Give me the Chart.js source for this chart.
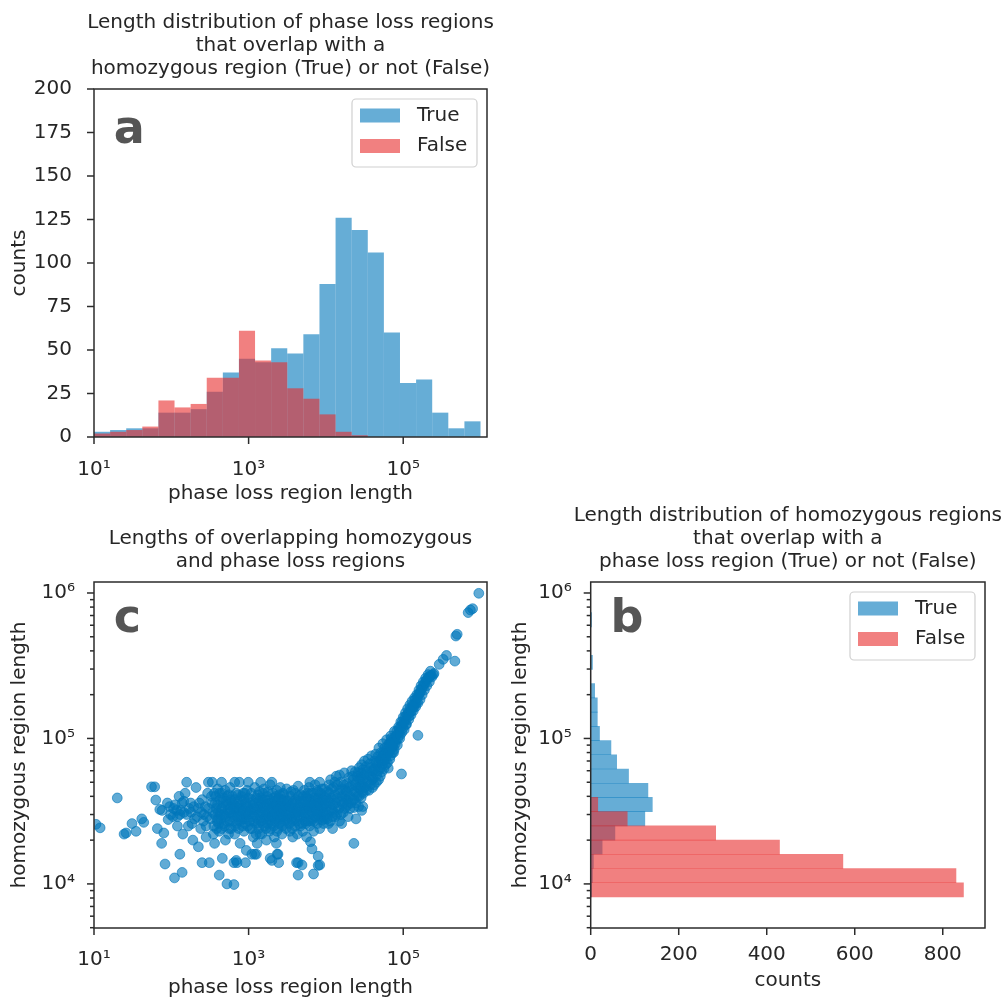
<!DOCTYPE html>
<html>
<head>
<meta charset="utf-8">
<title>Phase loss and homozygous region lengths</title>
<script src="https://cdn.jsdelivr.net/npm/chart.js@4.4.1/dist/chart.umd.min.js"></script>
<style>
  html, body { margin: 0; padding: 0; background: #fff; }
  #page { position: relative; width: 1008px; height: 999px; overflow: hidden; }
  canvas { position: absolute; }
  #chartA { left: 0; top: 0; }
  #chartC { left: 0; top: 510px; }
  #chartB { left: 500px; top: 490px; }
</style>
</head>
<body>
<div id="page">
  <canvas id="chartA" width="500" height="510"></canvas>
  <canvas id="chartC" width="500" height="489"></canvas>
  <canvas id="chartB" width="508" height="509"></canvas>
</div>
<script>
// ---- data -------------------------------------------------------------

// (a) phase loss region lengths, 24 log bins from 10 to 1e6
var phaseLossBinEdges = [10, 16.16, 26.1, 42.17, 68.13, 110.1, 177.8, 287.3, 464.2, 749.9, 1211.5, 1957, 3162, 5109, 8254,
                         13335, 21544, 34807, 56234, 90852, 146780, 237137, 383119, 618966, 1000000];
var phaseLossTrue  = [3, 4, 5, 5, 14, 14, 16, 26, 37, 45, 43, 51, 48, 59, 88, 126, 119, 106, 60, 31, 33, 14, 5, 9];
var phaseLossFalse = [2, 3, 4, 6, 21, 17, 19, 34, 34, 61, 44, 43, 28, 22, 13, 3, 1, 0, 0, 0, 0, 0, 0, 0];

// (b) homozygous region lengths, 20 log bins
var homozygousBinEdges = [8140, 10190, 12760, 15990, 20020, 25070, 31400, 39320, 49240, 61670, 77230,
                          96720, 121100, 151700, 190000, 237900, 298000, 373200, 467300, 585200, 733100];
var homozygousTrue  = [2, 4, 6, 26, 55, 123, 140, 130, 86, 59, 46, 20, 15, 15, 9, 0, 4, 0, 0, 2];
var homozygousFalse = [847, 830, 573, 429, 284, 83, 16, 0, 0, 0, 0, 0, 0, 0, 0, 0, 0, 0, 0, 0];

// (c) overlapping pairs: [phase loss length, homozygous length]
var overlapPairs = [
  // short phase loss regions
  [10.6, 25700], [12, 24300], [20, 39000], [24.5, 22000], [26, 22400], [31, 26000], [35, 23000], [41.5, 28000],
  [44, 26500], [55.5, 46500], [61, 46500], [63, 37700], [66, 24000], [71, 32500], [75, 19000], [76, 32000],
  [80, 22400], [83, 13700], [89, 36000], [91, 27700], [95, 34000], [98, 30000],
  [105, 29000], [107, 33000], [110, 11000], [112, 35000], [117, 32000], [120, 25000], [120, 29000], [126, 40000],
  [129, 16000], [129, 30000], [132, 32000], [138, 12000], [138, 36000], [141, 22000], [145, 37000], [145, 31000],
  [151, 42000], [158, 50000], [158, 30000], [166, 25000], [170, 33000], [178, 36000], [180, 31000], [185, 26000],
  [190, 20000], [195, 34000], [200, 28000], [209, 46000], [215, 29000], [224, 33000], [224, 18000], [230, 36000],
  [240, 24000], [245, 31000], [250, 14000], [251, 38000], [260, 27000], [263, 30000], [275, 34000], [282, 21000],
  [282, 25000], [290, 29000], [295, 42000], [302, 33000], [302, 50000], [310, 14000],
  // 10^2.5 .. 10^3
  [330, 40000], [339, 50000], [345, 31000], [355, 25000], [360, 42000], [363, 19000], [370, 36000], [380, 33000],
  [390, 27000], [398, 45000], [398, 28000], [417, 23000], [417, 11500], [427, 30000], [430, 38000], [440, 33000],
  [447, 50000], [450, 42000], [457, 15000], [468, 36000], [479, 26000], [485, 30000], [501, 20000], [510, 35000],
  [525, 10000], [525, 40000], [537, 32000], [550, 22000], [560, 31000], [562, 24000], [575, 46000], [580, 38000],
  [590, 34000], [603, 29000], [617, 40000], [631, 35000], [640, 27000], [646, 9900], [646, 14000], [661, 22000],
  [661, 50000], [680, 31000], [692, 14500], [692, 42000], [708, 26000], [708, 14000], [720, 37000], [724, 32000],
  [741, 24000], [759, 50000], [760, 29000], [776, 19000], [794, 38000], [820, 33000], [832, 28000], [851, 42000],
  [871, 23000], [880, 38000], [891, 34000], [912, 14000], [912, 30000], [933, 17000], [940, 31000], [955, 44000],
  [977, 25000], [990, 50000],
  [320, 28000], [335, 36000], [350, 22000], [365, 30000], [375, 40000], [385, 24000], [395, 35000], [405, 31000],
  [410, 26000], [420, 42000], [435, 28000], [445, 24000], [455, 33000], [462, 39000], [475, 30000], [490, 25000],
  [495, 44000], [505, 29000], [515, 37000], [530, 27000], [545, 35000], [555, 41000], [570, 27000], [585, 31000],
  [595, 24000], [610, 36000], [625, 30000], [650, 33000], [665, 38000], [675, 25000], [700, 34000], [715, 29000],
  [730, 41000], [750, 33000], [770, 27000], [785, 35000], [800, 30000], [815, 40000], [840, 25000], [860, 32000],
  [875, 28000], [895, 42000], [905, 26000], [925, 36000], [945, 28000], [960, 34000], [985, 30000], [995, 39000],
  // 10^3 .. 10^3.5
  [1050, 24000], [1050, 36000], [1080, 42000], [1100, 16000], [1100, 33000], [1120, 29000], [1150, 21000],
  [1180, 33000], [1200, 46000], [1200, 16000], [1230, 26000], [1260, 39000], [1260, 16000], [1290, 19000],
  [1300, 28000], [1320, 31000], [1350, 24000], [1350, 37000], [1380, 43000], [1410, 35000], [1430, 50000],
  [1450, 27000], [1480, 22000], [1500, 33000], [1520, 38000], [1550, 30000], [1580, 45000], [1620, 25000],
  [1650, 29000], [1660, 34000], [1700, 20000], [1740, 40000], [1780, 28000], [1800, 31000], [1820, 36000],
  [1860, 23000], [1900, 48000], [1900, 15000], [1900, 27000], [1950, 32000], [2000, 26000], [2000, 50000],
  [2000, 14500], [2050, 42000], [2090, 30000], [2100, 35000], [2150, 21000], [2200, 37000], [2240, 27000],
  [2250, 40000], [2290, 19000], [2300, 44000], [2340, 33000], [2340, 16000], [2400, 24000], [2400, 16000],
  [2450, 14000], [2450, 31000], [2460, 39000], [2510, 29000], [2570, 46000], [2630, 34000], [2700, 22000],
  [2700, 29000], [2760, 37000], [2820, 26000], [2880, 41000], [2900, 35000], [2950, 31000], [3050, 24000],
  [3100, 45000],
  [1010, 30000], [1030, 27000], [1060, 32000], [1090, 38000], [1110, 24000], [1140, 35000], [1170, 27000],
  [1190, 30000], [1220, 36000], [1250, 22000], [1270, 33000], [1310, 41000], [1330, 26000], [1370, 30000],
  [1400, 22000], [1420, 39000], [1460, 31000], [1490, 36000], [1510, 26000], [1540, 42000], [1570, 34000],
  [1600, 28000], [1630, 38000], [1680, 24000], [1690, 31000], [1720, 35000], [1760, 26000], [1790, 43000],
  [1830, 29000], [1850, 33000], [1880, 38000], [1920, 24000], [1970, 36000], [2020, 29000], [2060, 33000],
  [2110, 25000], [2130, 39000], [2180, 31000], [2210, 28000], [2270, 35000], [2320, 23000], [2360, 38000],
  [2380, 29000], [2430, 34000], [2480, 26000], [2520, 41000], [2550, 33000], [2600, 28000], [2650, 38000],
  [2680, 31000], [2730, 25000], [2780, 33000], [2800, 42000], [2850, 29000], [2920, 38000], [2980, 27000],
  [3000, 34000], [3080, 30000], [3130, 37000],
  // 10^3.5 .. 10^4
  [3310, 32000], [3400, 23000], [3480, 40000], [3500, 34000], [3550, 28000], [3640, 36000], [3700, 27000],
  [3720, 21000], [3800, 44000], [3900, 30000], [3980, 25000], [4000, 31000], [4080, 38000], [4170, 33000],
  [4170, 14000], [4270, 22000], [4370, 47000], [4370, 11500], [4370, 14000], [4470, 29000], [4570, 36000],
  [4600, 32000], [4680, 25000], [4800, 41000], [4900, 31000], [4900, 13500], [5010, 23000], [5130, 35000],
  [5200, 29000], [5250, 44000], [5370, 27000], [5500, 33000], [5500, 40000], [5620, 21000], [5750, 39000],
  [5800, 34000], [5890, 30000], [6030, 46000], [6170, 25000], [6200, 50000], [6310, 35000], [6310, 19500],
  [6460, 42000], [6500, 31000], [6610, 28000], [6610, 17400], [6760, 33000], [6920, 23000], [6920, 11700],
  [7000, 27000], [7080, 39000], [7200, 33000], [7240, 48000], [7410, 29000], [7590, 36000], [7760, 26000],
  [7940, 43000], [7940, 13400], [7940, 15500], [8000, 36000], [8130, 32000], [8300, 50000], [8320, 24000],
  [8320, 13500], [8510, 38000], [8710, 29000], [8800, 33000], [8910, 45000], [9000, 27500], [9120, 34000],
  [9330, 26000], [9500, 35000], [9550, 40000], [9770, 30000],
  [3200, 28000], [3250, 37000], [3350, 26000], [3420, 34000], [3450, 30000], [3530, 43000], [3600, 31000],
  [3670, 24000], [3750, 33000], [3850, 37000], [3950, 28000], [4030, 42000], [4120, 27000], [4220, 36000],
  [4320, 31000], [4420, 40000], [4520, 26000], [4650, 34000], [4750, 29000], [4850, 37000], [4950, 26000],
  [5060, 40000], [5150, 31000], [5300, 37000], [5420, 30000], [5560, 26000], [5680, 35000], [5820, 42000],
  [5950, 27000], [6100, 33000], [6250, 38000], [6400, 27000], [6550, 36000], [6700, 31000], [6850, 42000],
  [7000, 35000], [7150, 29000], [7320, 38000], [7500, 32000], [7680, 44000], [7850, 30000], [8050, 39000],
  [8230, 28000], [8400, 35000], [8600, 42000], [8850, 30000], [9050, 38000], [9250, 31000], [9450, 45000],
  [9650, 28000], [9900, 36000],
  // 10^4 .. 10^4.3
  [10000, 39000], [10200, 30000], [10500, 43000], [10800, 26000], [11000, 48000], [11200, 36000], [11500, 52000],
  [11800, 32000], [12000, 33000], [12200, 24000], [12600, 46000], [12900, 38000], [13000, 50000], [13200, 29000],
  [13600, 55000], [14000, 48000], [14100, 34000], [14500, 42000], [15000, 27000], [15000, 56000], [15500, 50000],
  [15800, 37000], [16000, 26000], [16300, 45000], [16800, 31000], [17000, 36000], [17300, 58000], [17800, 40000],
  [18000, 44000], [18300, 34000], [18800, 49000], [19000, 38000], [19400, 29000], [19900, 54000],
  [10100, 34000], [10400, 28000], [10700, 37000], [10900, 31000], [11100, 42000], [11400, 27000], [11600, 39000],
  [11900, 45000], [12100, 29000], [12400, 35000], [12700, 31000], [13000, 41000], [13400, 36000], [13800, 30000],
  [14200, 39000], [14700, 33000], [15200, 44000], [15600, 30000], [16100, 40000], [16500, 35000], [17000, 48000],
  [17500, 33000], [18100, 38000], [18600, 43000], [19200, 35000], [19700, 46000],
  // 10^4.3 .. 10^4.6
  [20500, 33000], [21000, 47000], [21500, 60000], [22000, 38000], [22500, 52000], [23000, 33500], [23000, 19000],
  [23500, 43000], [24000, 59000], [24500, 36000], [24500, 28000], [25000, 50000], [25500, 40000], [26000, 58000],
  [26500, 34000], [27000, 63000], [27500, 45000], [28000, 54000], [28500, 39000], [29000, 66000], [29000, 32000],
  [29500, 49000], [30000, 61000], [30000, 34000], [30500, 42000], [31000, 56000], [31500, 70000], [32000, 46000],
  [33000, 64000], [34000, 51000], [35000, 72000], [36000, 44000], [37000, 67000], [38000, 55000], [39000, 76000],
  [40000, 60000], [40000, 46000],
  [20200, 40000], [21200, 36000], [21800, 44000], [22200, 55000], [23200, 38000], [23800, 48000], [24800, 42000],
  [25300, 55000], [26200, 46000], [26800, 40000], [27300, 52000], [28300, 47000], [28800, 58000], [29800, 43000],
  [30300, 52000], [31300, 46000], [32500, 57000], [33500, 44000], [34500, 60000], [35500, 50000], [36500, 56000],
  [37500, 48000], [38500, 63000], [39500, 52000],
  // 10^4.6 .. 10^4.9
  [41000, 53000], [42500, 70000], [43000, 62000], [44000, 78000], [45500, 56000], [46000, 66000], [47000, 75000],
  [48500, 86000], [50000, 62000], [51500, 80000], [52000, 70000], [53000, 59000], [54500, 92000], [55000, 80000],
  [56000, 70000], [57500, 86000], [58000, 76000], [59000, 66000], [60000, 75000], [61000, 98000], [62000, 88000],
  [63000, 78000], [64000, 62500], [65000, 92000], [66000, 82000], [67000, 72000], [68000, 94000], [69000, 104000],
  [70000, 100000], [71000, 86000], [72000, 90000], [73000, 98000], [75000, 80000], [76000, 96000], [77000, 112000],
  [79000, 92000], [95000, 57000],
  [41500, 60000], [42000, 48000], [44500, 68000], [45000, 50000], [47500, 60000], [48000, 52000], [49000, 70000],
  [50500, 55000], [51000, 72000], [53500, 66000], [54000, 76000], [56500, 62000], [57000, 78000], [59500, 72000],
  [60500, 82000], [62500, 68000], [64500, 80000], [66500, 90000], [68500, 76000], [70500, 92000], [72500, 80000],
  [74000, 88000], [76500, 84000], [78000, 102000],
  // 10^4.9 .. 10^5.4
  [81000, 105000], [84000, 90000], [87000, 120000], [88000, 110000], [90000, 100000], [93000, 130000],
  [96000, 110000], [98000, 125000], [100000, 140000], [103000, 115000], [107000, 150000], [108000, 135000],
  [110000, 125000], [114000, 160000], [118000, 135000], [120000, 150000], [122000, 170000], [126000, 145000],
  [130000, 180000], [132000, 165000], [135000, 155000], [140000, 190000], [142000, 175000], [145000, 165000],
  [150000, 200000], [155000, 175000], [155000, 105000],
  [80000, 96000], [82500, 112000], [85000, 100000], [86000, 108000], [89000, 118000], [91500, 106000],
  [94000, 120000], [97000, 130000], [99000, 118000], [102000, 128000], [105000, 140000], [109000, 125000],
  [112000, 145000], [116000, 150000], [119000, 142000], [124000, 160000], [128000, 155000], [133000, 170000],
  [138000, 165000], [143000, 185000], [148000, 175000], [153000, 190000], [158000, 200000], [163000, 205000],
  [168000, 210000], [173000, 220000], [179000, 225000], [185000, 235000], [192000, 240000], [198000, 250000],
  [206000, 255000], [214000, 265000], [222000, 268000], [230000, 272000],
  [160000, 215000], [165000, 185000], [170000, 230000], [176000, 200000], [182000, 245000], [188000, 215000],
  [195000, 260000], [202000, 230000], [210000, 275000], [218000, 245000], [225000, 290000], [235000, 265000],
  [245000, 275000], [250000, 280000],
  // longest regions
  [292000, 323000], [329000, 350000], [363000, 372000], [466000, 340000], [480000, 506000], [499000, 520000],
  [692000, 733000], [740000, 764000], [790000, 780000], [950000, 995000]
];

// axis ticks
var lengthTicks = [10, 1000, 100000];
var lengthTickLabels = ['10¹', '10³', '10⁵'];
var homozygousTicks = [10000, 100000, 1000000];
var homozygousTickLabels = ['10⁴', '10⁵', '10⁶'];
var homozygousMinorTicks = [5000, 6000, 7000, 8000, 9000, 20000, 30000, 40000, 50000, 60000, 70000, 80000, 90000,
                            200000, 300000, 400000, 500000, 600000, 700000, 800000, 900000];
var countTicksA = [0, 25, 50, 75, 100, 125, 150, 175, 200];
var countTicksB = [0, 200, 400, 600, 800];

// ---- styling ----------------------------------------------------------

var TEXT = '#262626';
var TRUE_COLOR = 'rgba(0, 119, 187, 0.6)';
var FALSE_COLOR = 'rgba(232, 44, 44, 0.6)';
var POINT_COLOR = 'rgba(0, 119, 187, 0.62)';

Chart.defaults.font.family = '"DejaVu Sans", sans-serif';
Chart.defaults.font.size = 20;
Chart.defaults.color = TEXT;

// box around the plot area plus outward tick marks (short ones for minor ticks)
var frameTicks = {
  id: 'frameTicks',
  afterDraw: function(chart) {
    var ctx = chart.ctx, a = chart.chartArea;
    ctx.save();
    ctx.strokeStyle = '#2b2b2b';
    ctx.lineWidth = 1.5;
    Object.keys(chart.scales).forEach(function(id) {
      var scale = chart.scales[id];
      scale.ticks.forEach(function(t) {
        var len = t.major === false ? 4 : 7;
        var p = scale.getPixelForValue(t.value);
        ctx.beginPath();
        if (scale.isHorizontal()) {
          ctx.moveTo(p, a.bottom);
          ctx.lineTo(p, a.bottom + len);
        } else {
          ctx.moveTo(a.left, p);
          ctx.lineTo(a.left - len, p);
        }
        ctx.stroke();
      });
    });
    ctx.strokeRect(a.left, a.top, a.right - a.left, a.bottom - a.top);
    ctx.restore();
  }
};

// multi-line title centred over the plot area
var panelTitle = {
  id: 'panelTitle',
  afterDraw: function(chart, args, opts) {
    var ctx = chart.ctx, a = chart.chartArea, n = opts.lines.length;
    ctx.save();
    ctx.font = '20px "DejaVu Sans"';
    ctx.fillStyle = TEXT;
    ctx.textAlign = 'center';
    ctx.textBaseline = 'middle';
    opts.lines.forEach(function(line, i) {
      ctx.fillText(line, (a.left + a.right) / 2, a.top - 20.5 - 23 * (n - 1 - i));
    });
    ctx.restore();
  }
};

// big grey panel letter in the upper left corner
var panelLetter = {
  id: 'panelLetter',
  afterDraw: function(chart, args, opts) {
    var ctx = chart.ctx, a = chart.chartArea;
    ctx.save();
    ctx.font = 'bold 46px "DejaVu Sans"';
    ctx.fillStyle = '#555';
    ctx.textBaseline = 'alphabetic';
    ctx.fillText(opts.text, a.left + 0.05 * (a.right - a.left), a.top + opts.dy);
    ctx.restore();
  }
};

// legend box inside the upper right corner
var panelLegend = {
  id: 'panelLegend',
  afterDraw: function(chart) {
    var ctx = chart.ctx, a = chart.chartArea;
    var w = 125, h = 68, x = a.right - 10 - w, y = a.top + 10;
    ctx.save();
    ctx.beginPath();
    ctx.roundRect(x, y, w, h, 4);
    ctx.fillStyle = 'rgba(255,255,255,0.8)';
    ctx.fill();
    ctx.strokeStyle = '#d0d0d0';
    ctx.lineWidth = 1.2;
    ctx.stroke();
    ctx.font = '20px "DejaVu Sans"';
    ctx.textBaseline = 'middle';
    chart.data.datasets.forEach(function(ds, i) {
      var cy = y + 16.5 + 30.5 * i;
      ctx.fillStyle = ds.backgroundColor;
      ctx.fillRect(x + 8, cy - 7, 40, 14);
      ctx.fillStyle = TEXT;
      ctx.fillText(ds.label, x + 65, cy);
    });
    ctx.restore();
  }
};

// ---- helpers ----------------------------------------------------------

function binCenters(edges) {
  var c = [];
  for (var i = 0; i < edges.length - 1; i++) c.push(Math.sqrt(edges[i] * edges[i + 1]));
  return c;
}

function axis(o) {
  var minor = o.minor || [];
  return {
    type: o.type, min: o.min, max: o.max, offset: false, stacked: o.stacked,
    grid: {display: false, offset: false},
    border: {display: false},
    afterBuildTicks: function(scale) {
      var t = o.ticks.map(function(v) { return {value: v, major: true}; });
      minor.forEach(function(v) { t.push({value: v, major: false}); });
      t.sort(function(p, q) { return p.value - q.value; });
      scale.ticks = t;
    },
    ticks: {
      autoSkip: false, maxRotation: 0, minRotation: 0, padding: o.tickPad, color: TEXT,
      callback: function(value) {
        var i = o.ticks.indexOf(value);
        return i < 0 ? '' : o.labels[i];
      }
    },
    title: {display: true, text: o.title, color: TEXT, font: {size: 20, lineHeight: 1}, padding: o.titlePad},
    afterFit: function(scale) {
      if (scale.isHorizontal()) scale.height = o.size; else scale.width = o.size;
    }
  };
}

var barStyle = {barThickness: 'flex', categoryPercentage: 1, barPercentage: 1, borderWidth: 0};

// ---- (a) phase loss region length histogram ---------------------------

var centersA = binCenters(phaseLossBinEdges);
new Chart(document.getElementById('chartA'), {
  type: 'bar',
  data: {
    datasets: [
      {label: 'True', backgroundColor: TRUE_COLOR, order: 1, inflateAmount: 0,
       data: centersA.map(function(c, i) { return {x: c, y: phaseLossTrue[i]}; })},
      {label: 'False', backgroundColor: FALSE_COLOR, order: 0, inflateAmount: 0,
       data: centersA.map(function(c, i) { return {x: c, y: phaseLossFalse[i]}; })}
    ]
  },
  options: {
    responsive: false, animation: false, devicePixelRatio: 1, events: [],
    layout: {padding: {left: 0, right: 13, top: 89, bottom: 0}},
    datasets: {bar: barStyle},
    plugins: {
      legend: {display: false}, tooltip: {enabled: false},
      panelTitle: {lines: ['Length distribution of phase loss regions', 'that overlap with a',
                           'homozygous region (True) or not (False)']},
      panelLetter: {text: 'a', dy: 54}
    },
    scales: {
      x: axis({type: 'logarithmic', min: 10, max: 1213000, stacked: true, ticks: lengthTicks, labels: lengthTickLabels,
               tickPad: 13, title: 'phase loss region length', titlePad: {top: 0, bottom: 6}, size: 73}),
      y: axis({type: 'linear', min: 0, max: 200, stacked: false, ticks: countTicksA, labels: countTicksA.map(String),
               tickPad: 14, title: 'counts', titlePad: {top: 10, bottom: 0}, size: 94})
    }
  },
  plugins: [frameTicks, panelTitle, panelLetter, panelLegend]
});

// ---- (c) scatter of overlapping region lengths -------------------------

new Chart(document.getElementById('chartC'), {
  type: 'scatter',
  data: {
    datasets: [{
      data: overlapPairs.map(function(p) { return {x: p[0], y: p[1]}; }),
      backgroundColor: POINT_COLOR, borderColor: POINT_COLOR, borderWidth: 1, pointRadius: 4.9
    }]
  },
  options: {
    responsive: false, animation: false, devicePixelRatio: 1, events: [],
    layout: {padding: {left: 0, right: 13, top: 72, bottom: 0}},
    plugins: {
      legend: {display: false}, tooltip: {enabled: false},
      panelTitle: {lines: ['Lengths of overlapping homozygous', 'and phase loss regions']},
      panelLetter: {text: 'c', dy: 50}
    },
    scales: {
      x: axis({type: 'logarithmic', min: 10, max: 1213000, ticks: lengthTicks, labels: lengthTickLabels,
               tickPad: 12, title: 'phase loss region length', titlePad: {top: 0, bottom: 1}, size: 71}),
      y: axis({type: 'logarithmic', min: 4977, max: 1190000, ticks: homozygousTicks, labels: homozygousTickLabels,
               minor: homozygousMinorTicks, tickPad: 11, title: 'homozygous region length',
               titlePad: {top: 10, bottom: 0}, size: 94})
    }
  },
  plugins: [frameTicks, panelTitle, panelLetter]
});

// ---- (b) homozygous region length histogram (horizontal) --------------

var centersB = binCenters(homozygousBinEdges);
new Chart(document.getElementById('chartB'), {
  type: 'bar',
  data: {
    datasets: [
      {label: 'True', backgroundColor: TRUE_COLOR, order: 1,
       data: centersB.map(function(c, i) { return {y: c, x: homozygousTrue[i]}; })},
      {label: 'False', backgroundColor: FALSE_COLOR, order: 0,
       data: centersB.map(function(c, i) { return {y: c, x: homozygousFalse[i]}; })}
    ]
  },
  options: {
    indexAxis: 'y',
    responsive: false, animation: false, devicePixelRatio: 1, events: [],
    layout: {padding: {left: 0, right: 23, top: 92, bottom: 0}},
    datasets: {bar: barStyle},
    plugins: {
      legend: {display: false}, tooltip: {enabled: false},
      panelTitle: {lines: ['Length distribution of homozygous regions', 'that overlap with a',
                           'phase loss region (True) or not (False)']},
      panelLetter: {text: 'b', dy: 50}
    },
    scales: {
      x: axis({type: 'linear', min: 0, max: 896, stacked: false, ticks: countTicksB, labels: countTicksB.map(String),
               tickPad: 7, title: 'counts', titlePad: {top: 0, bottom: 8}, size: 71}),
      y: axis({type: 'logarithmic', min: 4977, max: 1190000, stacked: true, ticks: homozygousTicks,
               labels: homozygousTickLabels, minor: homozygousMinorTicks, tickPad: 11,
               title: 'homozygous region length', titlePad: {top: 11, bottom: 0}, size: 90.7})
    }
  },
  plugins: [frameTicks, panelTitle, panelLetter, panelLegend]
});
</script>
</body>
</html>
